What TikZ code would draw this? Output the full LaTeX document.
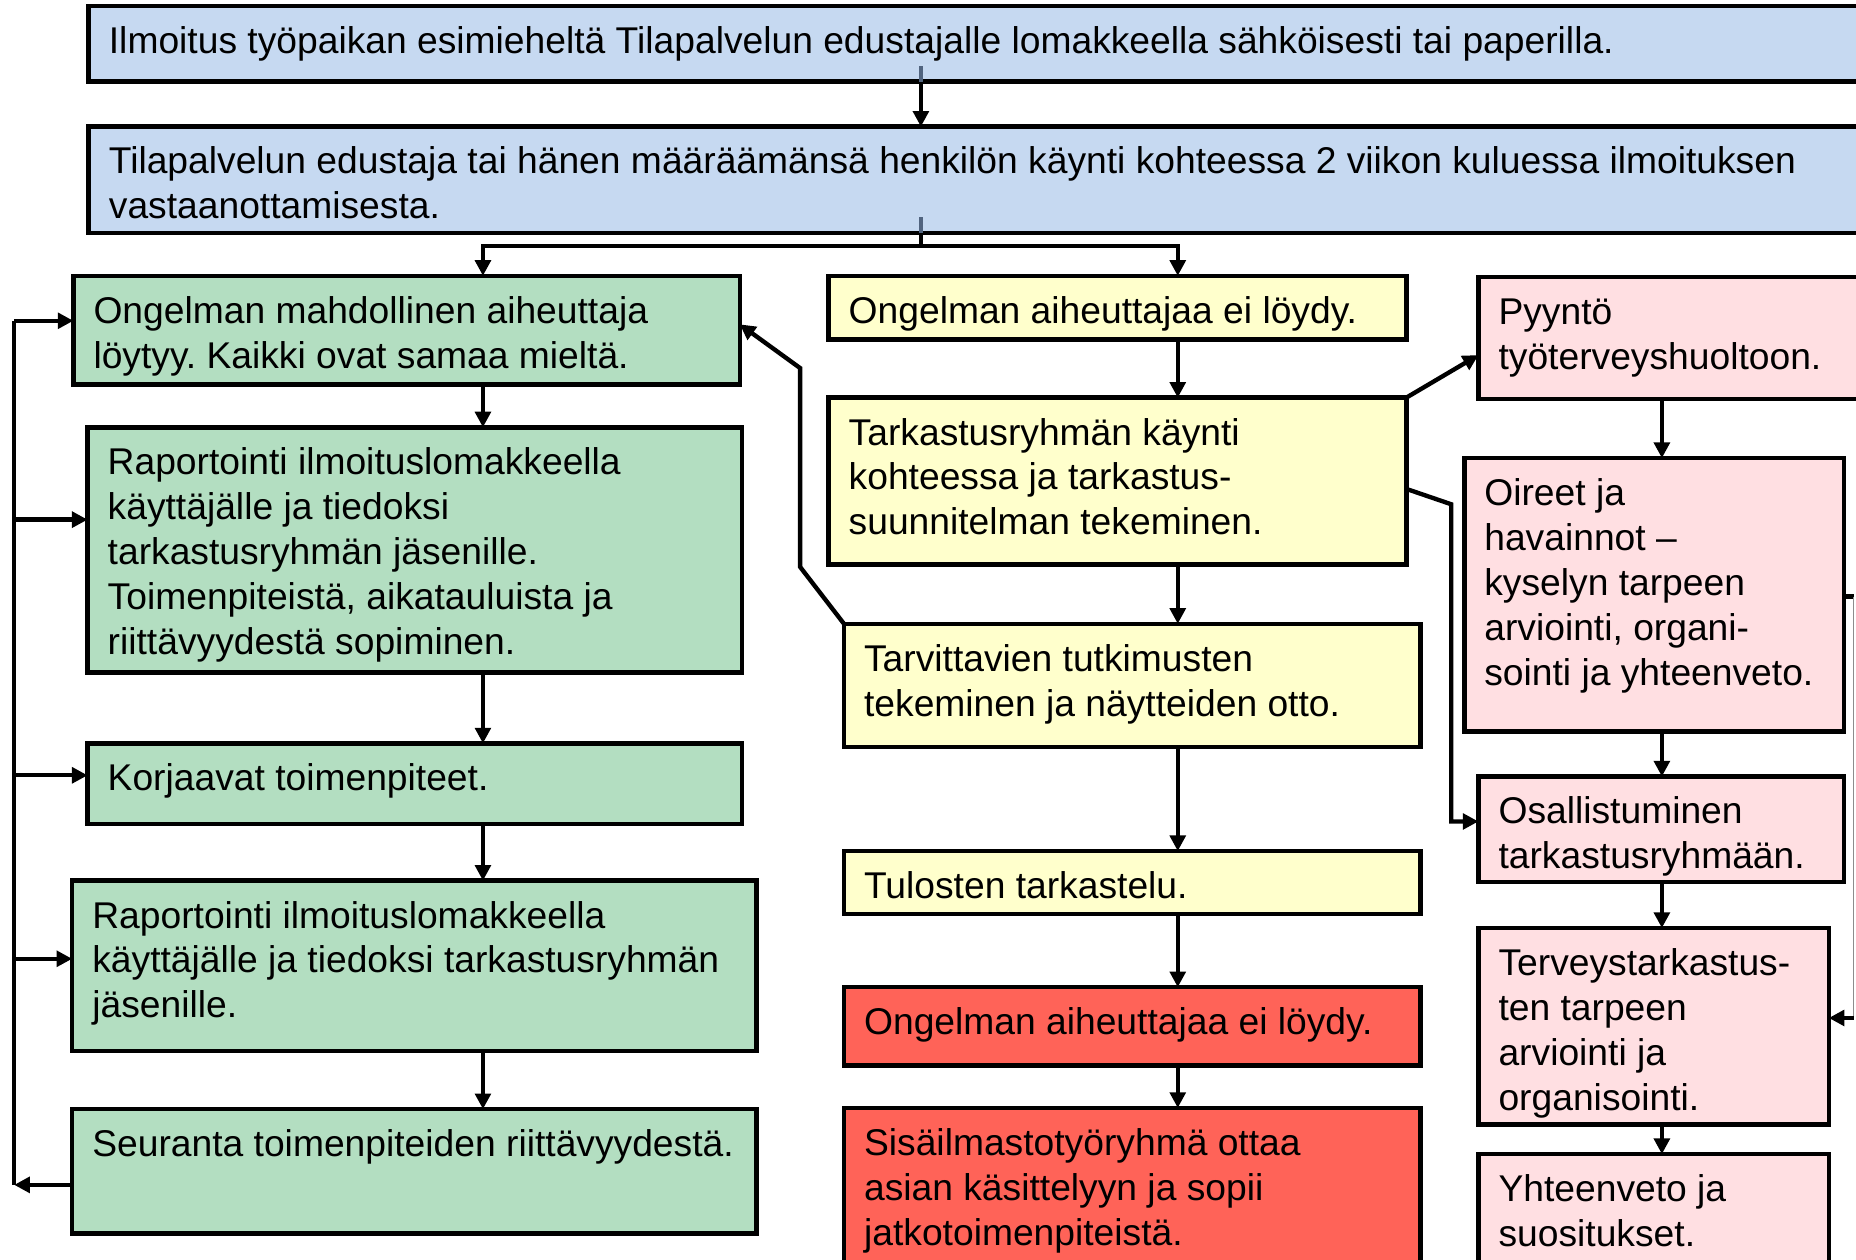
\documentclass[tikz,border=0pt]{standalone}
\usepackage{fontspec}
\setmainfont{Liberation Sans}
\usetikzlibrary{arrows.meta}
\frenchspacing
\newdimen\uu \uu=0.02cm
\definecolor{cblue}{HTML}{C6D9F1}
\definecolor{cgreen}{HTML}{B3DEC1}
\definecolor{cyellow}{HTML}{FFFFCC}
\definecolor{cpink}{HTML}{FFDFE2}
\definecolor{cred}{HTML}{FF6358}
\definecolor{cstub}{HTML}{51647F}
\tikzset{
  boxst/.style={draw=black, line width=2.2pt, inner sep=0pt, outer sep=0pt},
  txt/.style={inner sep=0pt, outer sep=0pt, font=\fontsize{17.9}{21.6}\selectfont},
  con/.style={line width=2.1pt, -{Triangle[length=7.5pt,width=7.5pt]}},
  plainline/.style={line width=2.1pt},
  stubl/.style={line width=2.1pt, draw=cstub},
  thinline/.style={line width=0.6pt, draw=black!45},
}
\newcommand\flowbox[7]{%
  \node[boxst, fill=#6, anchor=north west, minimum width={(#4-#2)*\uu}, minimum height={(#5-#3)*\uu}] (#1) at (#2,#3) {};
  \node[txt, anchor=base west] (#1t) at ({#2+17},{#3+40}) {\frenchspacing\begin{tabular}[t]{@{}l@{}}#7\end{tabular}};}
\begin{document}
\begin{tikzpicture}[x=0.02cm,y=-0.02cm]
\useasboundingbox[fill=white] (0,0) rectangle (1568,1064);
% top
\flowbox{b1}{75}{5}{1600}{69}{cblue}{Ilmoitus työpaikan esimieheltä Tilapalvelun edustajalle lomakkeella sähköisesti tai paperilla.}
\flowbox{b2}{75}{107}{1600}{197}{cblue}{Tilapalvelun edustaja tai hänen määräämänsä henkilön käynti kohteessa 2 viikon kuluessa ilmoituksen\\vastaanottamisesta.}
% left column
\flowbox{g1}{62}{233}{625}{325}{cgreen}{Ongelman mahdollinen aiheuttaja\\löytyy. Kaikki ovat samaa mieltä.}
\flowbox{g2}{74}{361}{627}{568}{cgreen}{Raportointi ilmoituslomakkeella\\käyttäjälle ja tiedoksi\\tarkastusryhmän jäsenille.\\Toimenpiteistä, aikatauluista ja\\riittävyydestä sopiminen.}
\flowbox{g3}{74}{628}{627}{696}{cgreen}{Korjaavat toimenpiteet.}
\flowbox{g4}{61}{744}{639}{888}{cgreen}{Raportointi ilmoituslomakkeella\\käyttäjälle ja tiedoksi tarkastusryhmän\\jäsenille.}
\flowbox{g5}{61}{937}{639}{1042}{cgreen}{Seuranta toimenpiteiden riittävyydestä.}
% middle column
\flowbox{y1}{700}{233}{1188}{287}{cyellow}{Ongelman aiheuttajaa ei löydy.}
\flowbox{y2}{700}{336}{1188}{477}{cyellow}{Tarkastusryhmän käynti\\kohteessa ja tarkastus-\\suunnitelman tekeminen.}
\flowbox{y3}{713}{527}{1200}{631}{cyellow}{Tarvittavien tutkimusten\\tekeminen ja näytteiden otto.}
\flowbox{y4}{713}{719}{1200}{772}{cyellow}{Tulosten tarkastelu.}
\flowbox{r1}{713}{834}{1200}{900}{cred}{Ongelman aiheuttajaa ei löydy.}
\flowbox{r2}{713}{936}{1200}{1090}{cred}{Sisäilmastotyöryhmä ottaa\\asian käsittelyyn ja sopii\\jatkotoimenpiteistä.}
% right column
\flowbox{p1}{1249}{234}{1600}{337}{cpink}{Pyyntö\\työterveyshuoltoon.}
\flowbox{p2}{1237}{387}{1558}{618}{cpink}{Oireet ja\\havainnot –\\kyselyn tarpeen\\arviointi, organi-\\sointi ja yhteenveto.}
\flowbox{p3}{1249}{656}{1558}{745}{cpink}{Osallistuminen\\tarkastusryhmään.}
\flowbox{p4}{1249}{784}{1545}{950}{cpink}{Terveystarkastus-\\ten tarpeen\\arviointi ja\\organisointi.}
\flowbox{p5}{1249}{975}{1545}{1090}{cpink}{Yhteenveto ja\\suositukset.}
% helper coordinates
\coordinate (xm) at (778,0);
\coordinate (xl) at (408,0);
\coordinate (xc) at (995,0);
\coordinate (xr) at (1404,0);
\coordinate (xw) at (12,0);
\coordinate (xe) at (1566,0);
\coordinate (xk) at (676,0);
\coordinate (xj) at (1226,0);
\coordinate (hy) at (0,208);
\coordinate (ya1) at (0,271);
\coordinate (ya2) at (0,439);
\coordinate (ya3) at (0,655);
\coordinate (ya4) at (0,810);
\coordinate (ya5) at (0,1001);
\coordinate (yp1) at (0,300);
\coordinate (yk1) at (0,311);
\coordinate (yk2) at (0,479);
\coordinate (yg1) at (0,274);
\coordinate (yj1) at (0,413);
\coordinate (yj2) at (0,426);
\coordinate (yp3) at (0,694);
\coordinate (yp2) at (0,504);
\coordinate (yp4) at (0,860);
% top connectors
\draw[stubl] (b1.south -| xm) -- ++(0,-13);
\draw[con] (b1.south -| xm) -- (b2.north -| xm);
\draw[stubl] (b2.south -| xm) -- ++(0,-14);
\draw[con] (b2.south -| xm) -- (hy -| xm) -| (g1.north -| xl);
\draw[con] (hy -| xm) -| (y1.north -| xc);
% left chain
\draw[con] (g1.south -| xl) -- (g2.north -| xl);
\draw[con] (g2.south -| xl) -- (g3.north -| xl);
\draw[con] (g3.south -| xl) -- (g4.north -| xl);
\draw[con] (g4.south -| xl) -- (g5.north -| xl);
% middle chain
\draw[con] (y1.south -| xc) -- (y2.north -| xc);
\draw[con] (y2.south -| xc) -- (y3.north -| xc);
\draw[con] (y3.south -| xc) -- (y4.north -| xc);
\draw[con] (y4.south -| xc) -- (r1.north -| xc);
\draw[con] (r1.south -| xc) -- (r2.north -| xc);
% right chain
\draw[con] (p1.south -| xr) -- (p2.north -| xr);
\draw[con] (p2.south -| xr) -- (p3.north -| xr);
\draw[con] (p3.south -| xr) -- (p4.north -| xr);
\draw[con] (p4.south -| xr) -- (p5.north -| xr);
% cross connectors
\draw[con] (y2.north east) -- (p1.west |- yp1);
\draw[con] (y2.east |- yj1) -- (xj |- yj2) -- (xj |- yp3) -- (p3.west |- yp3);
\draw[con] (y3.north west) -- (xk |- yk2) -- (xk |- yk1) -- (g1.east |- yg1);
% left feedback loop
\draw[con] (g5.west |- ya5) -- (xw |- ya5);
\draw[plainline] (xw |- ya5) -- (xw |- ya1);
\draw[con] (xw |- ya1) -- (g1.west |- ya1);
\draw[con] (xw |- ya2) -- (g2.west |- ya2);
\draw[con] (xw |- ya3) -- (g3.west |- ya3);
\draw[con] (xw |- ya4) -- (g4.west |- ya4);
% right loop
\draw[plainline] (p2.east |- yp2) -- (xe |- yp2);
\draw[thinline] (xe |- yp2) -- (xe |- yp4);
\draw[con] (xe |- yp4) -- (p4.east |- yp4);
\end{tikzpicture}
\end{document}
